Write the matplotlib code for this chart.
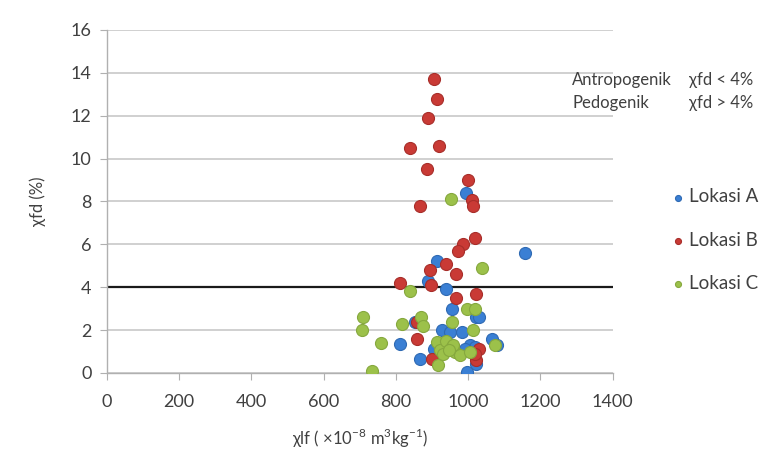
import matplotlib.pyplot as plt

plt.rcParams['font.family'] = ['Lato', 'DejaVu Sans']
plt.rcParams['mathtext.fontset'] = 'custom'
plt.rcParams['mathtext.rm'] = 'Lato'

# Lokasi A (biru)
xa = [993, 1157, 913, 888, 938, 955, 1023, 1030, 852, 927, 949, 982, 811, 905,
      1004, 1018, 1065, 1079, 866, 1021, 996, 990]
ya = [8.4, 5.6, 5.2, 4.3, 3.9, 3.0, 2.6, 2.6, 2.4, 2.0, 1.9, 1.9, 1.35, 1.1,
      1.3, 1.2, 1.6, 1.3, 0.65, 0.4, 0.05, 1.1]

# Lokasi B (merah)
xb = [905, 915, 890, 840, 918, 885, 1000, 1012, 1014, 868, 1018, 985, 971, 938,
      894, 966, 811, 896, 1023, 966, 858, 858, 1030, 1021, 899, 1020]
yb = [13.7, 12.8, 11.9, 10.5, 10.6, 9.5, 9.0, 8.05, 7.8, 7.8, 6.3, 6.0, 5.7, 5.1,
      4.8, 4.6, 4.2, 4.1, 3.7, 3.5, 2.4, 1.6, 1.1, 0.6, 0.65, 0.9]

# Lokasi C (hijau)
xc = [952, 1037, 838, 996, 1018, 816, 869, 874, 955, 1013, 708, 705, 758, 733,
      913, 921, 940, 955, 963, 977, 916, 1004, 1074, 930, 957, 947]
yc = [8.1, 4.9, 3.8, 3.0, 3.0, 2.3, 2.6, 2.2, 2.4, 2.0, 2.6, 2.0, 1.4, 0.1,
      1.45, 1.07, 1.5, 1.2, 0.98, 0.84, 0.37, 0.98, 1.3, 0.9, 1.3, 1.05]

batas = 4  # batas chi fd antropogenik / pedogenik

fig = plt.figure(figsize=(7.63, 4.61), dpi=100)
ax = fig.add_axes([0.140, 0.191, 0.663, 0.744])

ax.set_xlim(0, 1400)
ax.set_ylim(0, 16)
ax.set_xticks(range(0, 1401, 200))
ax.set_yticks(range(0, 17, 2))
ax.grid(axis='y', color='#c8c8c8', linewidth=1.2, zorder=0)
ax.set_axisbelow(True)
for s in ['top', 'right']:
    ax.spines[s].set_visible(False)
for s in ['left', 'bottom']:
    ax.spines[s].set_color('#b0b0b0')
    ax.spines[s].set_linewidth(1.0)
ax.tick_params(direction='out', length=5, color='#b0b0b0', labelsize=13,
               labelcolor='#404040')
ax.tick_params(axis='x', pad=10)
ax.tick_params(axis='y', pad=6)

ax.axhline(batas, color='#1a1a1a', linewidth=1.6, zorder=1)

ax.scatter(xa, ya, s=75, color='#3a7fd4', edgecolors='#2f6ab3', linewidths=0.8,
           label='Lokasi A', zorder=3)
ax.scatter(xb, yb, s=75, color='#c93a35', edgecolors='#a82e2a', linewidths=0.8,
           label='Lokasi B', zorder=3)
ax.scatter(xc, yc, s=75, color='#9cc14a', edgecolors='#86a83e', linewidths=0.8,
           label='Lokasi C', zorder=3)

ax.set_xlabel(r'χlf ( ×10$^{-8}$ m$^{3}$kg$^{-1}$)', fontsize=12, color='#404040',
              labelpad=12)
ax.set_ylabel('χfd (%)', fontsize=12, color='#404040', labelpad=18)

fig.text(0.750, 0.826, 'Antropogenik', fontsize=12, color='#404040', va='center')
fig.text(0.903, 0.826, 'χfd < 4%', fontsize=12, color='#404040', va='center')
fig.text(0.750, 0.777, 'Pedogenik', fontsize=12, color='#404040', va='center')
fig.text(0.903, 0.777, 'χfd > 4%', fontsize=12, color='#404040', va='center')

fig.legend(loc='center left', bbox_to_anchor=(0.874, 0.479), frameon=False,
           fontsize=13.5, labelspacing=1.4, handletextpad=0.2, markerscale=0.5,
           handlelength=0.8, borderpad=0.2, borderaxespad=0.0,
           labelcolor='#404040')

fig.savefig('out.png', dpi=100)
